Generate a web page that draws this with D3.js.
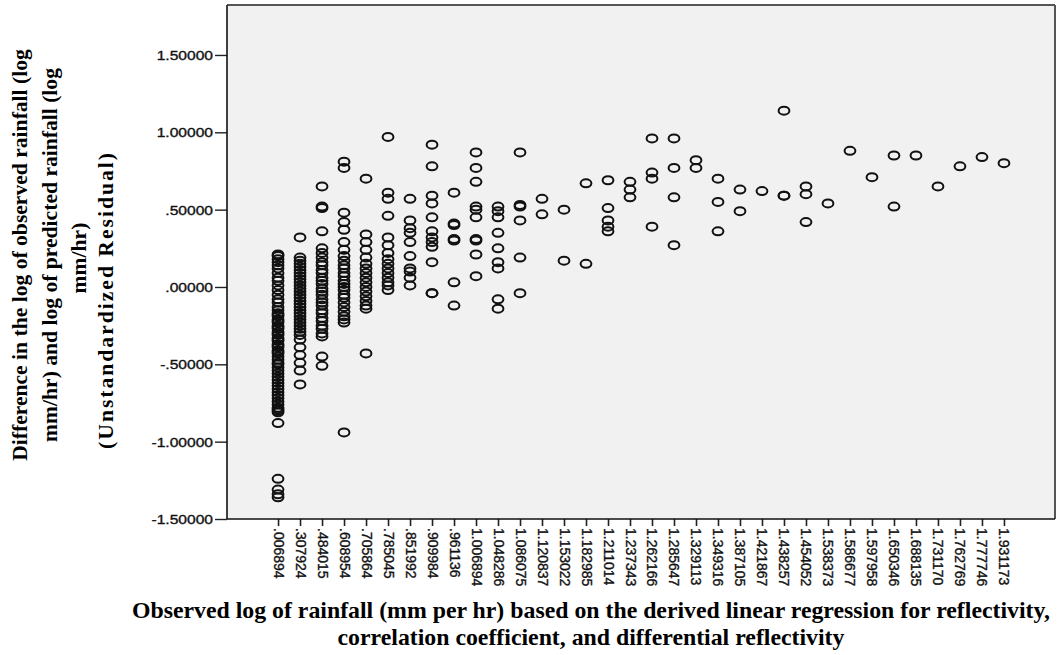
<!DOCTYPE html>
<html>
<head>
<meta charset="utf-8">
<script src="https://cdn.jsdelivr.net/npm/d3@7"></script>
<style>
  html, body { margin: 0; padding: 0; background: #ffffff; }
  svg { display: block; }
</style>
</head>
<body>
<svg id="chart" width="1059" height="655"></svg>
<script>
// ---- data ----
const categories = [".006894", ".307924", ".484015", ".608954", ".705864", ".785045", ".851992",
  ".909984", ".961136", "1.006894", "1.048286", "1.086075", "1.120837", "1.153022", "1.182985",
  "1.211014", "1.237343", "1.262166", "1.285647", "1.329113", "1.349316", "1.387105", "1.421867",
  "1.438257", "1.454052", "1.538373", "1.586677", "1.597958", "1.650346", "1.688135", "1.731170",
  "1.762769", "1.777746", "1.931173"];

const yTicks = [-1.5, -1.0, -0.5, 0, 0.5, 1.0, 1.5];

// unstandardized residuals, one array per category (same order as categories)
const residuals = [
  [0.21, 0.20, 0.18, 0.16, 0.14, 0.12, 0.09, 0.06, 0.04, 0.01, -0.02, -0.05, -0.08, -0.10, -0.13, -0.15,
   -0.17, -0.18, -0.19, -0.21, -0.22, -0.23, -0.25, -0.26, -0.27, -0.29, -0.30, -0.31, -0.33, -0.34,
   -0.35, -0.37, -0.38, -0.39, -0.41, -0.42, -0.43, -0.45, -0.47, -0.49, -0.50, -0.52, -0.54, -0.56,
   -0.58, -0.60, -0.62, -0.64, -0.66, -0.68, -0.70, -0.72, -0.74, -0.76, -0.78, -0.79, -0.80, -0.81,
   -0.88, -1.24, -1.31, -1.34, -1.36],
  [0.32, 0.19, 0.17, 0.15, 0.13, 0.11, 0.09, 0.07, 0.05, 0.03, 0.01, -0.01, -0.03, -0.05, -0.07, -0.09,
   -0.11, -0.13, -0.15, -0.17, -0.19, -0.21, -0.23, -0.25, -0.27, -0.29, -0.31, -0.34, -0.39, -0.44,
   -0.49, -0.54, -0.63],
  [0.65, 0.52, 0.51, 0.36, 0.25, 0.22, 0.19, 0.16, 0.14, 0.11, 0.09, 0.06, 0.04, 0.02, -0.01, -0.03,
   -0.05, -0.08, -0.10, -0.12, -0.15, -0.17, -0.20, -0.22, -0.25, -0.27, -0.30, -0.32, -0.45, -0.51],
  [0.81, 0.77, 0.48, 0.42, 0.37, 0.29, 0.24, 0.20, 0.17, 0.14, 0.12, 0.09, 0.07, 0.04, 0.02, 0.00,
   -0.02, -0.05, -0.07, -0.10, -0.13, -0.16, -0.19, -0.21, -0.23, -0.94],
  [0.70, 0.34, 0.29, 0.24, 0.19, 0.15, 0.12, 0.09, 0.06, 0.03, 0.00, -0.03, -0.06, -0.09, -0.12, -0.14, -0.43],
  [0.97, 0.61, 0.57, 0.46, 0.32, 0.27, 0.22, 0.18, 0.15, 0.12, 0.09, 0.06, 0.03, 0.01, -0.02],
  [0.57, 0.43, 0.38, 0.35, 0.29, 0.20, 0.12, 0.10, 0.06, 0.01],
  [0.92, 0.78, 0.59, 0.54, 0.45, 0.36, 0.32, 0.29, 0.26, 0.16, -0.04, -0.04],
  [0.61, 0.41, 0.40, 0.31, 0.30, 0.03, -0.12],
  [0.87, 0.77, 0.68, 0.52, 0.50, 0.45, 0.31, 0.30, 0.21, 0.07],
  [0.52, 0.49, 0.45, 0.35, 0.25, 0.16, 0.12, -0.08, -0.14],
  [0.87, 0.53, 0.52, 0.43, 0.19, -0.04],
  [0.57, 0.47],
  [0.50, 0.17],
  [0.67, 0.15],
  [0.69, 0.51, 0.43, 0.39, 0.36],
  [0.68, 0.63, 0.58],
  [0.96, 0.74, 0.70, 0.39],
  [0.96, 0.77, 0.58, 0.27],
  [0.82, 0.77],
  [0.70, 0.55, 0.36],
  [0.63, 0.49],
  [0.62],
  [1.14, 0.59, 0.59],
  [0.65, 0.60, 0.42],
  [0.54],
  [0.88],
  [0.71],
  [0.85, 0.52],
  [0.85],
  [0.65],
  [0.78],
  [0.84],
  [0.80]
];

const yTitleLines = ["Difference in the log of observed rainfall (log",
  "mm/hr) and log of predicted rainfall (log", "mm/hr)", "(Unstandardized Residual)"];
const xTitleLines = ["Observed log of rainfall (mm per hr) based on the derived linear regression for reflectivity,",
  "correlation coefficient, and differential reflectivity"];

// ---- layout ----
const svg = d3.select("#chart");
const plot = { left: 227, top: 5, right: 1055, bottom: 519 };

const x = d3.scalePoint().domain(categories).range([plot.left, plot.right]).padding(2.32);
const y = d3.scaleLinear().domain([-1.5, 1.823]).range([plot.bottom, plot.top]);

const points = [];
categories.forEach((c, i) => residuals[i].forEach(v => points.push({ c, v })));

// plot background
svg.append("rect")
  .attr("x", plot.left).attr("y", plot.top)
  .attr("width", plot.right - plot.left).attr("height", plot.bottom - plot.top)
  .attr("fill", "#f1f1f1");

// points
svg.append("g").selectAll("ellipse").data(points).join("ellipse")
  .attr("cx", d => x(d.c))
  .attr("cy", d => y(d.v))
  .attr("rx", 5.4).attr("ry", 4.0)
  .attr("fill", "none")
  .attr("stroke", "#111")
  .attr("stroke-width", 2);

// frame: top and right
svg.append("line").attr("x1", plot.left).attr("x2", plot.right).attr("y1", plot.top).attr("y2", plot.top)
  .attr("stroke", "#555").attr("stroke-width", 2);
svg.append("line").attr("x1", plot.right).attr("x2", plot.right).attr("y1", plot.top).attr("y2", plot.bottom)
  .attr("stroke", "#555").attr("stroke-width", 2);

// y axis
const fmt = v => d3.format(".5f")(v).replace("\u2212", "-").replace(/^(-?)0\./, "$1.");
const yAxis = svg.append("g").attr("transform", `translate(${plot.left},0)`)
  .call(d3.axisLeft(y).tickValues(yTicks).tickFormat(fmt).tickSize(12).tickPadding(2).tickSizeOuter(0));
yAxis.select(".domain").remove();
yAxis.append("line").attr("x1", 0).attr("x2", 0).attr("y1", plot.top).attr("y2", plot.bottom)
  .attr("stroke", "#111").attr("stroke-width", 1.6);
yAxis.selectAll(".tick line").attr("stroke", "#222").attr("stroke-width", 1.4);
yAxis.selectAll(".tick text")
  .attr("font-family", "Liberation Sans, Arial, sans-serif")
  .attr("font-size", 13)
  .attr("fill", "#111")
  .attr("stroke", "#111").attr("stroke-width", 0.35)
  .attr("x", 0).attr("dy", null)
  .attr("dominant-baseline", "central")
  .attr("transform", "translate(-14,0) scale(1.2,1)");

// x axis
const xAxis = svg.append("g").attr("transform", `translate(0,${plot.bottom})`)
  .call(d3.axisBottom(x).tickSize(7).tickPadding(2).tickSizeOuter(0));
xAxis.select(".domain").remove();
xAxis.append("line").attr("x1", plot.left).attr("x2", plot.right).attr("y1", 0).attr("y2", 0)
  .attr("stroke", "#111").attr("stroke-width", 1.6);
xAxis.selectAll(".tick line").attr("stroke", "#222").attr("stroke-width", 1.6);
xAxis.selectAll(".tick text")
  .attr("font-family", "Liberation Sans, Arial, sans-serif")
  .attr("font-size", 14)
  .attr("fill", "#111")
  .attr("stroke", "#111").attr("stroke-width", 0.35)
  .attr("text-anchor", "start")
  .attr("dominant-baseline", "central")
  .attr("x", 0).attr("y", 0).attr("dy", null)
  .attr("transform", "translate(0,9) rotate(90)");

// y title
const yLineX = [20, 50, 79, 106];
const yLineY = [255, 255, 258, 300];
const ySpacing = [0, 0, 0, 2.0];
yTitleLines.forEach((t, i) => {
  svg.append("text")
    .attr("transform", `translate(${yLineX[i]},${yLineY[i]}) rotate(-90)`)
    .attr("text-anchor", "middle")
    .attr("dominant-baseline", "central")
    .attr("font-family", "Liberation Serif, Times New Roman, serif")
    .attr("font-weight", "bold")
    .attr("font-size", 21.6)
    .attr("letter-spacing", ySpacing[i])
    .attr("fill", "#000")
    .text(t);
});

// x title
const xLineY = [610, 637];
xTitleLines.forEach((t, i) => {
  svg.append("text")
    .attr("x", 591).attr("y", xLineY[i])
    .attr("text-anchor", "middle")
    .attr("dominant-baseline", "central")
    .attr("font-family", "Liberation Serif, Times New Roman, serif")
    .attr("font-weight", "bold")
    .attr("font-size", 23.8)
    .attr("fill", "#000")
    .text(t);
});
</script>
</body>
</html>
